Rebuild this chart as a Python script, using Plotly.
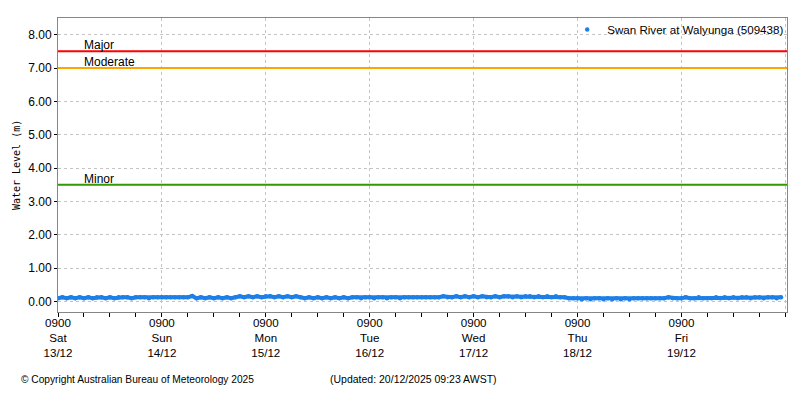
import pandas as pd
import plotly.graph_objects as go

# ---- data (hourly water level, m), starting Sat 13/12 09:00 ----
start = "2025-12-13 09:00"
end_time = "2025-12-20 09:23"
day1 = [0.10, 0.13, 0.10, 0.13, 0.10, 0.13, 0.10, 0.13, 0.10, 0.13, 0.13, 0.10,
        0.13, 0.10, 0.13, 0.13, 0.13, 0.10, 0.13, 0.13, 0.13, 0.10, 0.13, 0.13]
day2 = [0.13, 0.13, 0.13, 0.13, 0.13, 0.13, 0.13, 0.17, 0.10, 0.13, 0.10, 0.13,
        0.10, 0.13, 0.10, 0.13, 0.10, 0.13, 0.16, 0.13, 0.16, 0.13, 0.16, 0.13]
day3 = [0.16, 0.16, 0.13, 0.16, 0.13, 0.16, 0.13, 0.16, 0.13, 0.10, 0.13, 0.10,
        0.13, 0.10, 0.13, 0.10, 0.13, 0.10, 0.13, 0.10, 0.13, 0.13, 0.10, 0.13]
day4 = [0.13, 0.10, 0.13, 0.13, 0.10, 0.13, 0.13, 0.10, 0.13, 0.13, 0.13, 0.13,
        0.13, 0.13, 0.13, 0.13, 0.13, 0.16, 0.13, 0.13, 0.16, 0.13, 0.16, 0.13]
day5 = [0.16, 0.13, 0.16, 0.13, 0.13, 0.16, 0.13, 0.16, 0.16, 0.13, 0.16, 0.13,
        0.16, 0.16, 0.13, 0.16, 0.13, 0.16, 0.13, 0.16, 0.13, 0.13, 0.10, 0.10]
day6 = [0.10, 0.07, 0.10, 0.07, 0.10, 0.10, 0.07, 0.10, 0.07, 0.10, 0.07, 0.10,
        0.07, 0.10, 0.10, 0.10, 0.10, 0.10, 0.10, 0.10, 0.10, 0.13, 0.10, 0.10]
day7 = [0.10, 0.13, 0.10, 0.10, 0.13, 0.10, 0.10, 0.10, 0.13, 0.10, 0.13, 0.10,
        0.13, 0.10, 0.13, 0.13, 0.10, 0.13, 0.13, 0.10, 0.13, 0.13, 0.10, 0.13]
levels = day1 + day2 + day3 + day4 + day5 + day6 + day7
times = pd.date_range(start, periods=len(levels), freq="h")

tick_dates = ["2025-12-13 09:00", "2025-12-14 09:00", "2025-12-15 09:00",
              "2025-12-16 09:00", "2025-12-17 09:00", "2025-12-18 09:00",
              "2025-12-19 09:00", "2025-12-20 09:00"]
tick_text = ["0900<br>Sat<br>13/12", "0900<br>Sun<br>14/12", "0900<br>Mon<br>15/12",
             "0900<br>Tue<br>16/12", "0900<br>Wed<br>17/12", "0900<br>Thu<br>18/12",
             "0900<br>Fri<br>19/12", ""]
y_ticks = [0, 1, 2, 3, 4, 5, 6, 7, 8]

flood_names = ["Major", "Moderate", "Minor"]
flood_levels = [7.5, 7.0, 3.5]
flood_colors = ["#ff0000", "#ffa500", "#339900"]
flood_label_time = "2025-12-13 15:00"

series_name = "Swan River at Walyunga (509438)"
series_color = "#1e7fe6"

FONT = "Liberation Sans"
GRID = "#c4c4c4"
FRAME = "#868686"

fig = go.Figure()
# dense observations drawn as a continuous band
fig.add_trace(go.Scatter(
    x=times, y=levels, mode="lines", showlegend=False, hoverinfo="skip",
    line=dict(color=series_color, width=4),
))
fig.add_trace(go.Scatter(
    x=times, y=levels, mode="markers", name=series_name,
    marker=dict(color=series_color, size=4.5, symbol="circle", line=dict(width=0)),
))

for name, lvl, col in zip(flood_names, flood_levels, flood_colors):
    fig.add_shape(type="line", xref="x domain", x0=0, x1=1, yref="y", y0=lvl, y1=lvl,
                  line=dict(color=col, width=2))
    fig.add_annotation(x=flood_label_time, y=lvl, xref="x", yref="y", text=name,
                       showarrow=False, xanchor="left", yanchor="bottom",
                       xshift=-2, yshift=-3, font=dict(family=FONT, size=12, color="#000000"))

fig.add_annotation(xref="paper", yref="paper", x=-0.0575, y=0.5, text="Water Level (m)",
                   textangle=-90, showarrow=False, xanchor="center", yanchor="middle",
                   font=dict(family="DejaVu Sans Mono", size=10, color="#000000"))
fig.add_annotation(xref="paper", yref="paper", x=-0.054, y=-0.229,
                   text="© Copyright Australian Bureau of Meteorology 2025",
                   showarrow=False, xanchor="left", yanchor="middle",
                   font=dict(family=FONT, size=10.2, color="#000000"))
fig.add_annotation(xref="paper", yref="paper", x=0.371, y=-0.229,
                   text="(Updated: 20/12/2025 09:23 AWST)",
                   showarrow=False, xanchor="left", yanchor="middle",
                   font=dict(family=FONT, size=10.5, color="#000000"))

fig.update_layout(
    width=800, height=400, autosize=False,
    margin=dict(l=58, r=11, t=18, b=88, pad=0),
    paper_bgcolor="white", plot_bgcolor="white",
    font=dict(family=FONT, size=12, color="#000000"),
    showlegend=True,
    legend=dict(x=1.003, xanchor="right", y=1.01, yanchor="top", bgcolor="rgba(0,0,0,0)",
                font=dict(family=FONT, size=11.6, color="#000000"), itemwidth=30),
    xaxis=dict(
        type="date", range=[start, end_time], automargin=False,
        tickmode="array", tickvals=tick_dates, ticktext=tick_text,
        ticks="outside", ticklen=4, tickcolor="#000000", tickwidth=1,
        showgrid=True, gridcolor=GRID, griddash="3px,3px", gridwidth=1,
        showline=True, linecolor=FRAME, linewidth=1, mirror=True,
        zeroline=False,
        minor=dict(tick0=start, dtick=6 * 3600 * 1000, ticks="outside", ticklen=4,
                   tickcolor="#000000", showgrid=False),
        tickfont=dict(family=FONT, size=11.6),
        ticklabelstandoff=-4,
    ),
    yaxis=dict(
        range=[-0.31, 8.5], tickmode="array", tickvals=y_ticks, tickformat=".2f",
        automargin=False,
        ticks="outside", ticklen=3, tickcolor="#000000",
        showgrid=True, gridcolor=GRID, griddash="3px,3px", gridwidth=1,
        showline=True, linecolor=FRAME, linewidth=1, mirror=True,
        zeroline=False,
        tickfont=dict(family=FONT, size=12),
    ),
)

fig.write_html("out.html", config={"displayModeBar": False},
               post_script="document.body.style.margin='0';")
